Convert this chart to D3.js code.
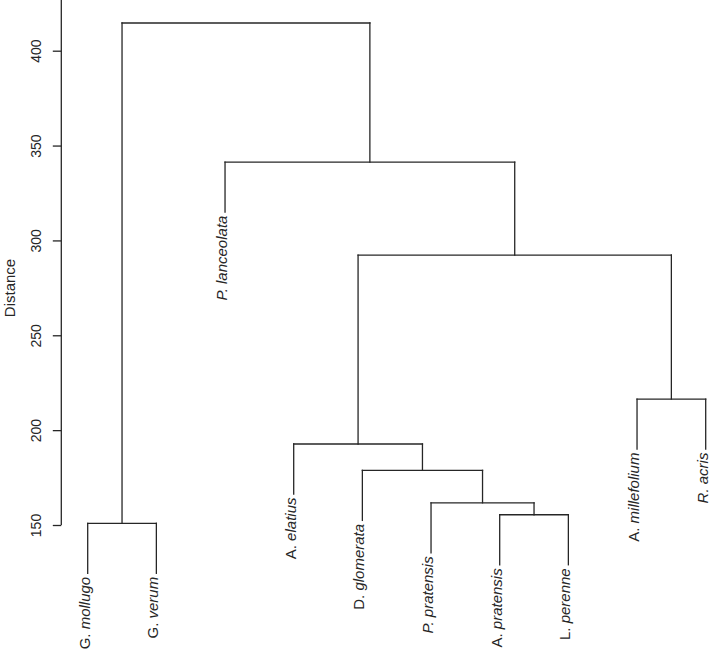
<!DOCTYPE html>
<html>
<head>
<meta charset="utf-8">
<script src="https://cdn.jsdelivr.net/npm/d3@7"></script>
<style>
  html, body { margin: 0; padding: 0; background: #fff; }
  svg { display: block; }
</style>
</head>
<body>
<svg id="chart" width="709" height="656"></svg>
<script>
// ---- data ----
const leafGenus   = ["G.", "G.", "P.", "A.", "D.", "P.", "A.", "L.", "A.", "R."];
const leafSpecies = ["mollugo", "verum", "lanceolata", "elatius", "glomerata", "pratensis", "pratensis", "perenne", "millefolium", "acris"];
const genusItalic = [false, false, true, false, false, true, false, false, false, true];
// R-style merge table: negative = leaf (1-based, in plotting order), positive = earlier merge step
const mergeLeft   = [-1, -7, -6, -5, -4, -9, 5, -3, 1];
const mergeRight  = [-2, -8,  2,  3,  4, -10, 6, 7, 8];
const mergeHeight = [150.9, 155.4, 161.7, 178.8, 192.7, 216.4, 292.3, 341.3, 414.6];
const yTicks      = [150, 200, 250, 300, 350, 400];
const yAxisTop    = 450;
const yTitle      = "Distance";
const hangFrac    = 0.1;

// ---- layout ----
const svg = d3.select("#chart");
const ink = "#262626";
const font = "'Liberation Sans', Arial, Helvetica, sans-serif";

const x = d3.scaleLinear().domain([1, leafSpecies.length]).range([87.7, 705.7]);
const y = d3.scaleLinear().domain([150, 400]).range([525, 50.7]);

const hang = hangFrac * (d3.max(mergeHeight) - d3.min(mergeHeight));

// compute positions of merge nodes
const nodeX = [];
function childX(c) { return c < 0 ? x(-c) : nodeX[c - 1]; }
mergeLeft.forEach((l, i) => {
  nodeX[i] = (childX(l) + childX(mergeRight[i])) / 2;
});

const lines = [];
const leafEnds = [];
mergeLeft.forEach((l, i) => {
  const h = mergeHeight[i];
  const r = mergeRight[i];
  lines.push({x1: childX(l), x2: childX(r), y1: y(h), y2: y(h)});
  [l, r].forEach(c => {
    const bottom = c < 0 ? h - hang : mergeHeight[c - 1];
    lines.push({x1: childX(c), x2: childX(c), y1: y(h), y2: y(bottom)});
    if (c < 0) leafEnds[-c - 1] = y(bottom);
  });
});

svg.append("g")
  .selectAll("line")
  .data(lines)
  .join("line")
  .attr("x1", d => d.x1).attr("x2", d => d.x2)
  .attr("y1", d => d.y1).attr("y2", d => d.y2)
  .attr("stroke", ink)
  .attr("stroke-width", 1.3)
  .attr("stroke-linecap", "square");

// leaf labels
const labels = svg.append("g")
  .selectAll("text")
  .data(leafSpecies.map((s, i) => ({i, s})))
  .join("text")
  .attr("transform", d => `translate(${x(d.i + 1)},${leafEnds[d.i] + 3.5}) rotate(-90)`)
  .attr("text-anchor", "end")
  .attr("dy", "0.12em")
  .attr("font-family", font)
  .attr("font-size", 15)
  .attr("fill", ink);
labels.append("tspan")
  .attr("font-style", d => genusItalic[d.i] ? "italic" : "normal")
  .text(d => leafGenus[d.i] + " ");
labels.append("tspan")
  .attr("font-style", "italic")
  .text(d => d.s);

// y axis
const axis = d3.axisLeft(y).tickValues(yTicks).tickSize(8.5).tickSizeOuter(0).tickFormat(d3.format("d"));
const gAxis = svg.append("g")
  .attr("transform", "translate(61.3,0)")
  .call(axis);
gAxis.select(".domain").remove();
gAxis.append("line")
  .attr("x1", 0).attr("x2", 0)
  .attr("y1", y(150)).attr("y2", y(yAxisTop))
  .attr("stroke", ink).attr("stroke-width", 1.3);
gAxis.selectAll(".tick line").attr("stroke", ink).attr("stroke-width", 1.3);
gAxis.selectAll(".tick text")
  .attr("font-family", font)
  .attr("font-size", 14)
  .attr("fill", ink)
  .attr("text-anchor", "middle")
  .attr("x", null).attr("dy", null)
  .attr("transform", "translate(-25.3,0) rotate(-90)")
  .attr("dominant-baseline", "central");

svg.append("text")
  .attr("transform", "translate(9,288) rotate(-90)")
  .attr("text-anchor", "middle")
  .attr("dominant-baseline", "central")
  .attr("font-family", font)
  .attr("font-size", 15)
  .attr("fill", ink)
  .text(yTitle);
</script>
</body>
</html>
